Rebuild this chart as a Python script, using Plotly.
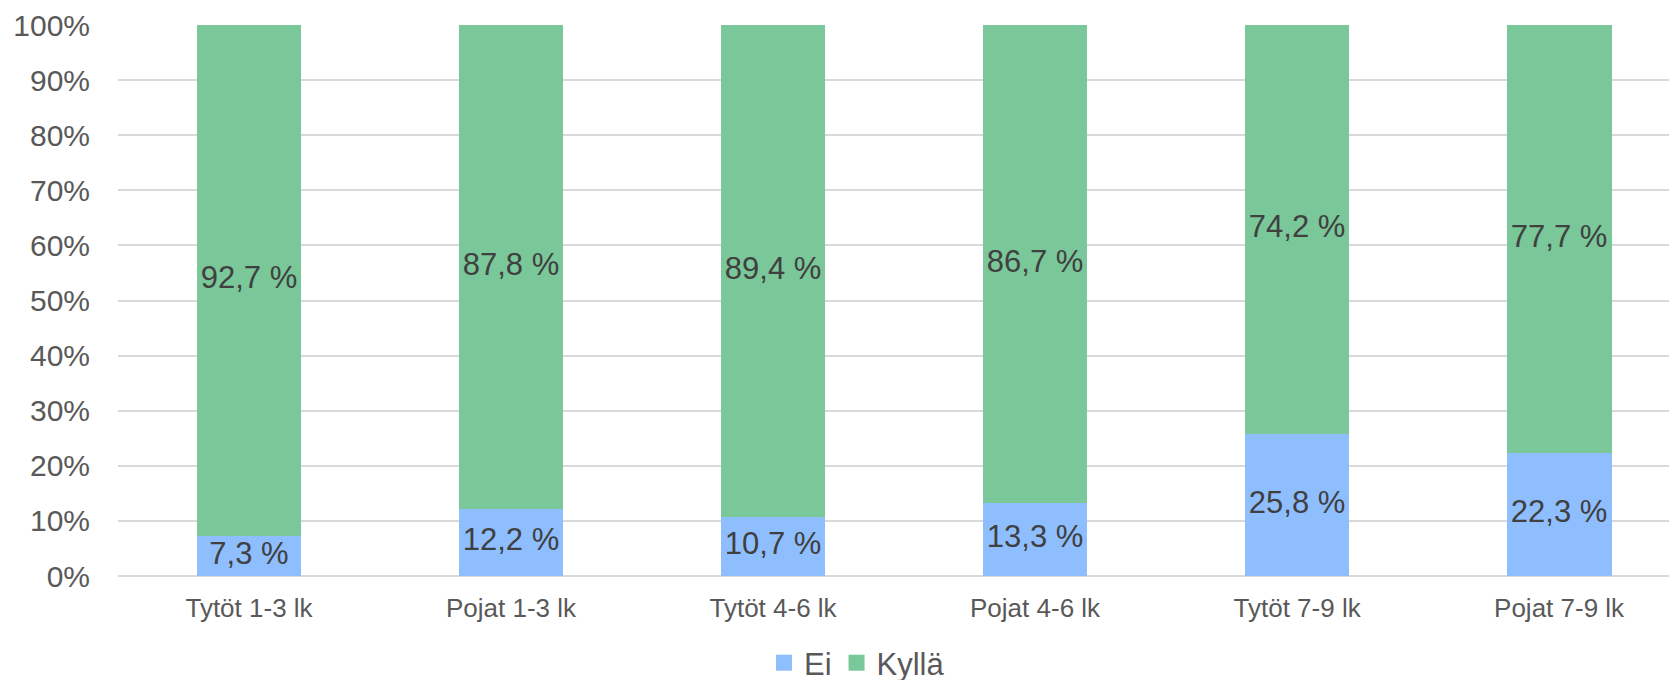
import plotly.graph_objects as go

categories = ['Tytöt 1-3 lk', 'Pojat 1-3 lk', 'Tytöt 4-6 lk', 'Pojat 4-6 lk', 'Tytöt 7-9 lk', 'Pojat 7-9 lk']
ei = [7.3, 12.2, 10.7, 13.3, 25.8, 22.3]
kylla = [92.7, 87.8, 89.4, 86.7, 74.2, 77.7]

FONT = 'Arial, "Liberation Sans", sans-serif'
COLORS = {'Ei': '#8FBEFF', 'Kyllä': '#7AC799'}


def pct_label(v):
    return f"{v:.1f}".replace('.', ',') + ' %'


fig = go.Figure()

fig.add_trace(go.Bar(x=categories, y=ei, name='Ei', showlegend=False,
                     marker=dict(color=COLORS['Ei'], line=dict(width=0))))
fig.add_trace(go.Bar(x=categories, y=kylla, name='Kyllä', showlegend=False,
                     marker=dict(color=COLORS['Kyllä'], line=dict(width=0))))

# labels centred in each segment
ei_mid = [v / 2 for v in ei]
kylla_mid = [e + k / 2 for e, k in zip(ei, kylla)]
for vals, mids in [(ei, ei_mid), (kylla, kylla_mid)]:
    fig.add_trace(go.Scatter(
        x=categories, y=mids,
        mode='text',
        text=[pct_label(v) for v in vals],
        textposition='middle center',
        textfont=dict(family=FONT, size=31, color='#404040'),
        showlegend=False,
        hoverinfo='skip',
        cliponaxis=False,
    ))

# legend entries with bigger square swatches
for name in ['Ei', 'Kyllä']:
    fig.add_trace(go.Scatter(
        x=[None], y=[None], mode='markers', name=name,
        marker=dict(symbol='square', size=17, color=COLORS[name]),
    ))

# the page body has an 8px margin, so margins are offset by 8
fig.update_layout(
    barmode='stack',
    bargap=0.6,
    width=1677,
    height=680,
    paper_bgcolor='white',
    plot_bgcolor='white',
    margin=dict(l=110, r=8, t=17, b=112, autoexpand=False),
    font=dict(family=FONT, color='#595959'),
    legend=dict(
        orientation='h',
        x=0.474, xanchor='center',
        y=-0.158, yanchor='middle',
        font=dict(size=31, color='#595959'),
        itemwidth=30,
        traceorder='normal',
    ),
    xaxis=dict(
        range=[-0.5, 5.45],
        showgrid=False,
        showline=False,
        automargin=False,
        tickfont=dict(size=26, color='#595959'),
        ticklabelstandoff=14,
    ),
    yaxis=dict(
        range=[0, 100],
        dtick=10,
        ticksuffix='%',
        showgrid=True,
        gridcolor='#D9D9D9',
        gridwidth=1.5,
        zeroline=True,
        zerolinecolor='#D9D9D9',
        zerolinewidth=1.5,
        automargin=False,
        tickfont=dict(size=30, color='#595959'),
        ticklabelstandoff=27,
    ),
)

fig.write_html("out.html")
